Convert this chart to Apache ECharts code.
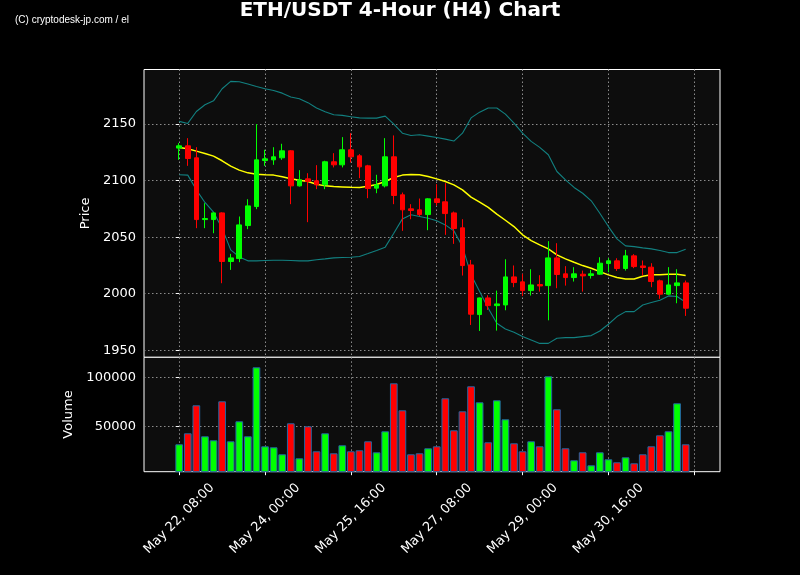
<!DOCTYPE html>
<html>
<head>
<meta charset="utf-8">
<script src="https://cdn.jsdelivr.net/npm/echarts@6/dist/echarts.min.js"></script>
<style>
  html, body { margin: 0; padding: 0; background: #000; }
  #chart { width: 800px; height: 575px; }
</style>
</head>
<body>
<div id="chart"></div>
<script>
// ---- Data (4-hour candles, index 0 = May 22 08:00) ----
const opens = [2128.8, 2130.8, 2120.2, 2065.6, 2065.6, 2071.5, 2028.5, 2031.1, 2060.3, 2077.1,
  2117.8, 2118.4, 2120.2, 2126.4, 2095.4, 2101.6, 2099.9, 2096.3, 2116.7, 2114.0,
  2127.3, 2122.0, 2113.1, 2093.4, 2095.4, 2121.1, 2087.5, 2075.1, 2074.2, 2070.0,
  2083.9, 2081.3, 2071.5, 2058.3, 2025.5, 1981.6, 1996.3, 1989.5, 1990.1, 2014.9,
  2010.5, 2002.8, 2008.1, 2007.2, 2031.7, 2017.6, 2014.3, 2017.3, 2016.1, 2017.3,
  2026.7, 2029.1, 2022.3, 2033.5, 2024.6, 2023.5, 2011.4, 1999.6, 2007.2, 2009.6];
const closes = [2130.8, 2119.6, 2065.6, 2066.5, 2071.5, 2028.5, 2031.7, 2060.9, 2077.7, 2118.4,
  2119.3, 2121.1, 2126.4, 2095.4, 2100.7, 2099.3, 2096.3, 2116.7, 2114.0, 2127.3,
  2121.1, 2112.2, 2093.1, 2096.3, 2121.1, 2086.9, 2074.2, 2073.6, 2070.0, 2083.9,
  2080.7, 2070.9, 2057.7, 2024.9, 1981.9, 1996.3, 1989.5, 1991.0, 2014.9, 2009.9,
  2002.8, 2007.8, 2006.9, 2031.7, 2017.0, 2014.3, 2017.6, 2015.8, 2017.6, 2027.0,
  2029.1, 2022.3, 2033.5, 2024.0, 2023.2, 2010.8, 1999.6, 2007.8, 2009.6, 1987.2];
const lows = [2118.4, 2113.1, 2058.0, 2058.0, 2053.5, 2009.3, 2021.1, 2027.9, 2057.1, 2074.8,
  2113.1, 2114.0, 2118.4, 2079.2, 2094.8, 2063.3, 2092.5, 2092.5, 2111.7, 2111.7,
  2116.1, 2102.2, 2084.5, 2088.9, 2094.0, 2079.2, 2055.6, 2065.9, 2068.6, 2056.2,
  2078.0, 2052.1, 2044.1, 2016.1, 1972.4, 1967.1, 1985.7, 1967.4, 1985.4, 2005.8,
  1998.0, 1998.4, 2001.9, 1976.5, 2004.9, 2007.2, 2010.8, 2001.9, 2013.4, 2016.7,
  2019.0, 2020.2, 2020.5, 2022.6, 2016.1, 2005.8, 1995.5, 1999.0, 1991.6, 1980.4];
const highs = [2133.2, 2137.6, 2129.6, 2080.1, 2072.0, 2072.0, 2035.3, 2068.3, 2083.6, 2150.0,
  2127.3, 2129.6, 2132.6, 2127.0, 2109.3, 2106.6, 2113.7, 2117.6, 2124.3, 2138.5,
  2142.0, 2123.5, 2114.0, 2105.2, 2137.6, 2140.0, 2089.5, 2079.2, 2084.2, 2084.5,
  2096.9, 2097.8, 2072.7, 2065.9, 2029.9, 1996.6, 1998.7, 2002.8, 2030.5, 2025.0,
  2017.6, 2021.7, 2016.4, 2046.5, 2044.7, 2024.4, 2023.5, 2020.5, 2021.1, 2032.3,
  2031.4, 2031.4, 2038.8, 2035.0, 2029.4, 2027.0, 2012.5, 2023.5, 2021.7, 2011.7];
const maLine = [2129.4, 2128.2, 2126.1, 2124.0, 2121.7, 2117.6, 2112.8, 2109.3, 2106.9, 2105.7,
  2105.2, 2104.9, 2103.4, 2101.6, 2100.4, 2099.3, 2096.9, 2095.4, 2094.8, 2094.5,
  2094.2, 2094.0, 2095.1, 2096.6, 2099.3, 2102.8, 2104.9, 2105.5, 2105.2, 2103.7,
  2101.6, 2099.3, 2096.3, 2091.9, 2085.5, 2081.0, 2076.3, 2070.4, 2065.0, 2059.4,
  2052.1, 2047.0, 2043.2, 2039.7, 2034.4, 2030.8, 2027.8, 2024.9, 2022.6, 2019.6,
  2016.7, 2014.3, 2013.1, 2013.1, 2015.5, 2016.7, 2016.7, 2017.3, 2017.3, 2016.1];
const upperBand = [2152.4, 2150.6, 2161.2, 2167.1, 2170.6, 2181.3, 2187.8, 2187.5, 2185.4, 2183.3,
  2181.3, 2179.8, 2177.4, 2174.0, 2172.5, 2169.0, 2164.2, 2161.0, 2158.3, 2157.7,
  2156.5, 2155.5, 2155.3, 2155.3, 2157.1, 2150.0, 2142.0, 2140.0, 2140.6, 2139.4,
  2138.2, 2136.7, 2135.0, 2142.0, 2155.5, 2160.6, 2164.2, 2164.2, 2158.8, 2150.9,
  2142.0, 2134.7, 2129.4, 2122.9, 2108.1, 2100.7, 2094.0, 2088.9, 2082.2, 2071.2,
  2059.4, 2048.5, 2042.3, 2041.7, 2040.6, 2039.7, 2038.2, 2036.4, 2036.4, 2039.4];
const lowerBand = [2105.2, 2104.9, 2091.9, 2080.7, 2072.1, 2058.0, 2038.8, 2032.6, 2029.1, 2029.1,
  2029.4, 2029.6, 2029.6, 2029.4, 2029.1, 2029.1, 2030.0, 2030.8, 2031.7, 2032.0,
  2032.3, 2032.9, 2035.5, 2038.3, 2041.2, 2053.5, 2066.2, 2069.8, 2068.3, 2066.8,
  2064.5, 2060.9, 2055.6, 2041.7, 2016.7, 2001.9, 1987.2, 1973.9, 1968.9, 1965.9,
  1962.1, 1959.1, 1956.1, 1956.1, 1960.6, 1961.2, 1961.2, 1962.1, 1963.0, 1967.1,
  1973.0, 1979.8, 1984.2, 1984.2, 1990.1, 1992.2, 1994.2, 1998.1, 1997.5, 1992.5];
const volumes = [31640, 42860, 71430, 39800, 35720, 75510, 34700, 55110, 39800, 110200,
  29600, 28580, 21440, 53070, 17360, 50000, 24500, 42860, 22460, 30620,
  24500, 25520, 34700, 23480, 44900, 93880, 66330, 21440, 22460, 27560,
  29600, 78570, 45920, 65310, 90820, 74490, 33680, 76530, 57150, 32660,
  24500, 34700, 29600, 101020, 67350, 27560, 15310, 23480, 10210, 23480,
  16330, 13270, 18380, 12250, 21440, 29600, 40820, 44900, 73470, 31640];
const xTickPositions = [0, 10, 20, 30, 40, 50, 60];
const xTickLabels = ['May 22, 08:00', 'May 24, 00:00', 'May 25, 16:00', 'May 27, 08:00', 'May 29, 00:00', 'May 30, 16:00'];
const priceTicks = [1950, 2000, 2050, 2100, 2150];
const volumeTicks = [50000, 100000];

// ---- Styles ----
const UP = '#00ff00', DOWN = '#ff0000';
const FONT = 'DejaVu Sans';
const gridLine = { show: true, lineStyle: { color: '#8c8c8c', type: [1.5, 2.5], width: 1 } };
const tickStyle = { show: true, inside: false, length: 3.5, lineStyle: { color: '#ffffff', width: 1 } };
const XMIN = -4.1, XMAX = 63;

const candleData = opens.map((o, i) => [i, o, closes[i], lows[i], highs[i]]);
const volData = volumes.map((v, i) => ({
  value: [i, v],
  itemStyle: { color: closes[i] >= opens[i] ? UP : DOWN }
}));
const toXY = arr => arr.map((v, i) => [i, v]);
const plain = v => String(Math.round(v));

const chart = echarts.init(document.getElementById('chart'), null, { renderer: 'canvas' });
chart.setOption({
  backgroundColor: '#000000',
  animation: false,
  title: [
    { text: 'ETH/USDT 4-Hour (H4) Chart', left: 'center', top: -4,
      textStyle: { color: '#ffffff', fontFamily: FONT, fontWeight: 'bold', fontSize: 20 } },
    { text: '(C) cryptodesk-jp.com / el', left: 10, top: 10,
      textStyle: { color: '#ffffff', fontFamily: 'Liberation Sans', fontWeight: 'normal', fontSize: 10 } }
  ],
  grid: [
    { left: 144, right: 80, top: 69.5, height: 287.8, show: true, backgroundColor: '#0d0d0d', borderColor: '#ffffff', borderWidth: 1 },
    { left: 144, right: 80, top: 357.3, height: 114.4, show: true, backgroundColor: '#0d0d0d', borderColor: '#ffffff', borderWidth: 1 }
  ],
  xAxis: [
    { type: 'value', gridIndex: 0, min: XMIN, max: XMAX,
      axisLine: { show: false },
      axisTick: { show: false, customValues: xTickPositions },
      axisLabel: { show: false, customValues: xTickPositions },
      splitLine: gridLine },
    { type: 'value', gridIndex: 1, min: XMIN, max: XMAX,
      axisLine: { show: false },
      axisTick: Object.assign({}, tickStyle, { customValues: xTickPositions }),
      axisLabel: { show: true, customValues: xTickPositions.slice(0, xTickLabels.length),
        rotate: 45, margin: 47, align: 'center', verticalAlign: 'middle',
        color: '#ffffff', fontFamily: FONT, fontSize: 13,
        formatter: v => xTickLabels[Math.round(v / 10)] || '' },
      splitLine: gridLine }
  ],
  yAxis: [
    { type: 'value', gridIndex: 0, min: 1943.8, max: 2198.3,
      name: 'Price', nameLocation: 'middle', nameGap: 44,
      nameTextStyle: { color: '#ffffff', fontFamily: FONT, fontSize: 13 },
      axisLine: { show: false },
      axisTick: Object.assign({}, tickStyle, { customValues: priceTicks }),
      axisLabel: { customValues: priceTicks, formatter: plain, color: '#ffffff', fontFamily: FONT, fontSize: 13, margin: 8 },
      splitLine: gridLine },
    { type: 'value', gridIndex: 1, min: 3670, max: 120400,
      name: 'Volume', nameLocation: 'middle', nameGap: 65,
      nameTextStyle: { color: '#ffffff', fontFamily: FONT, fontSize: 13 },
      axisLine: { show: false },
      axisTick: Object.assign({}, tickStyle, { customValues: volumeTicks }),
      axisLabel: { customValues: volumeTicks, formatter: plain, color: '#ffffff', fontFamily: FONT, fontSize: 13, margin: 8 },
      splitLine: gridLine }
  ],
  series: [
    { name: 'Upper', type: 'line', xAxisIndex: 0, yAxisIndex: 0, data: toXY(upperBand),
      symbol: 'none', lineStyle: { color: '#128080', width: 1.1 }, z: 2 },
    { name: 'Lower', type: 'line', xAxisIndex: 0, yAxisIndex: 0, data: toXY(lowerBand),
      symbol: 'none', lineStyle: { color: '#128080', width: 1.1 }, z: 2 },
    { name: 'MA', type: 'line', xAxisIndex: 0, yAxisIndex: 0, data: toXY(maLine),
      symbol: 'none', lineStyle: { color: '#ffff00', width: 1.5 }, z: 3 },
    { name: 'ETH', type: 'candlestick', xAxisIndex: 0, yAxisIndex: 0, data: candleData,
      encode: { x: 0, y: [1, 2, 3, 4] },
      barWidth: 5.2, z: 4,
      itemStyle: { color: UP, color0: DOWN, borderColor: UP, borderColor0: DOWN, borderWidth: 1 } },
    { name: 'Volume', type: 'bar', xAxisIndex: 1, yAxisIndex: 1, data: volData,
      barWidth: 7.7, clip: true,
      itemStyle: { borderColor: '#2466a3', borderWidth: 1 } }
  ]
});
</script>
</body>
</html>
